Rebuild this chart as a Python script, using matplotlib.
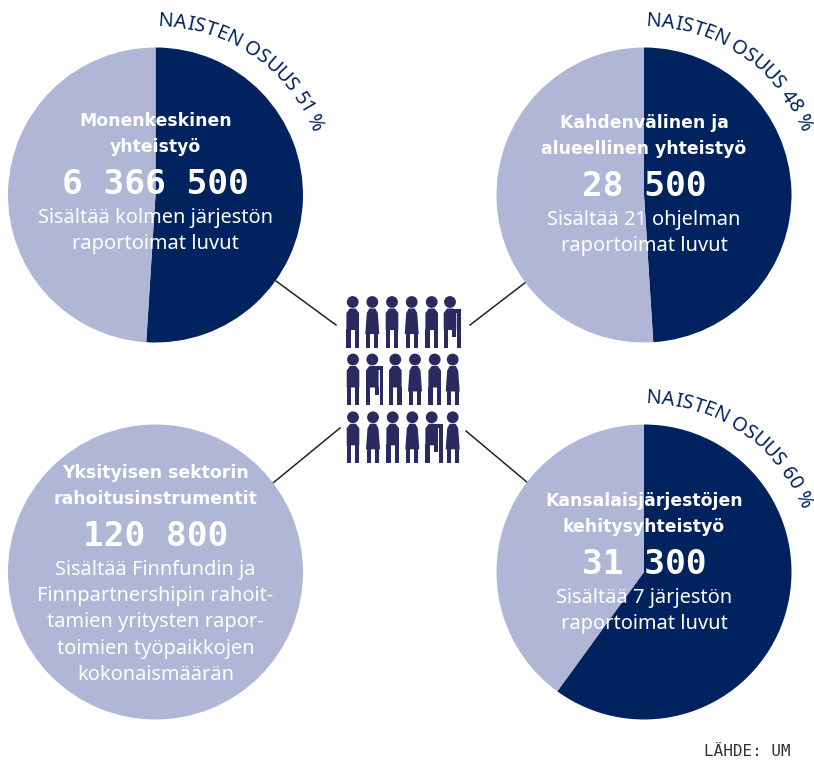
import numpy as np
from matplotlib import pyplot as plt
from matplotlib.patches import Circle, Rectangle, Polygon
from matplotlib.textpath import TextPath
from matplotlib.font_manager import FontProperties

W, H = 814, 760
dark = "#00235f"
light = "#afb6d6"
icon_col = "#2b2a60"

titles = [["Monenkeskinen", "yhteistyö"],
          ["Kahdenvälinen ja", "alueellinen yhteistyö"],
          ["Yksityisen sektorin", "rahoitusinstrumentit"],
          ["Kansalaisjärjestöjen", "kehitysyhteistyö"]]
totals = ["6 366 500", "28 500", "120 800", "31 300"]
notes = [["Sisältää kolmen järjestön", "raportoimat luvut"],
         ["Sisältää 21 ohjelman", "raportoimat luvut"],
         ["Sisältää Finnfundin ja", "Finnpartnershipin rahoit-", "tamien yritysten rapor-",
          "toimien työpaikkojen", "kokonaismäärän"],
         ["Sisältää 7 järjestön", "raportoimat luvut"]]
women_label = [51, 48, None, 60]
women_drawn = [51, 49, None, 60]  # the 48 % pie is drawn a bit over its label

centers = [(155.5, 195), (644, 195), (155.5, 572), (644, 572)]
title_y = [120.5, 122.5, 472.5, 500.5]
radius = 147.5

# person icons, p = trousers, d = dress, w = with walking stick
people = [("pdpdpw", 302, [352.7, 372.3, 392, 411.7, 431.7, 450]),
          ("pwpdpd", 359.5, [353, 372.3, 395.3, 415, 434.7, 452.7]),
          ("pdpdwd", 417.3, [353, 373, 392.7, 412.3, 431.7, 452.7])]

links = [((276, 281), (336, 325)), ((526, 282), (470, 325)),
         ((273, 483), (340, 428)), ((466, 431), (528, 483))]

plt.rcParams['font.family'] = ['Noto Sans', 'DejaVu Sans']
fig = plt.figure(figsize=(W / 100, H / 100), dpi=100)
ax = fig.add_axes([0, 0, 1, 1])


def yy(y):  # picture y runs downwards
    return H - y


def px(size):  # font size from pixels
    return size * 0.72


def curved(text, cx, cy, r, a0, a1, size):
    fp = FontProperties(family='Noto Sans', size=px(size))
    adv = []
    for ch in text:
        if ch == " ":
            adv.append(size * 0.26)
        else:
            adv.append(TextPath((0, 0), ch, size=size, prop=fp).get_extents().x1 + size * 0.06)
    adv = np.array(adv)
    span = np.radians(a1 - a0) * r
    gap = (span - adv.sum()) / (len(text) - 1)
    pos = 0
    for ch, a in zip(text, adv):
        ang = a0 + np.degrees((pos + a / 2) / r)
        x = cx + r * np.sin(np.radians(ang))
        y = cy + r * np.cos(np.radians(ang))
        ax.text(x, y, ch, fontsize=px(size), color=dark, rotation=-ang, rotation_mode='anchor',
                ha='center', va='center')
        pos += a + gap


def block(x0, x1, y0, y1):
    ax.add_patch(Rectangle((x0, yy(y1)), x1 - x0, y1 - y0, color=icon_col, lw=0, zorder=3))


def person(kind, x, y):
    ax.add_patch(Circle((x, yy(y)), 5.9, color=icon_col, lw=0, zorder=3))
    bottom = y + 45.7
    if kind == "d":
        ax.add_patch(Polygon([(x - 5.5, yy(y + 11)), (x - 3, yy(y + 6.5)), (x + 3, yy(y + 6.5)), (x + 5.5, yy(y + 11)),
                              (x + 7, yy(y + 32)), (x - 7, yy(y + 32))], color=icon_col, lw=0, zorder=3))
        block(x - 5.9, x - 1.9, y + 31, bottom)
        block(x + 2, x + 6, y + 31, bottom)
    else:
        ax.add_patch(Polygon([(x - 6.3, yy(y + 11)), (x - 3, yy(y + 6.5)), (x + 3, yy(y + 6.5)), (x + 6.3, yy(y + 11)),
                              (x + 6.3, yy(y + 28)), (x - 6.3, yy(y + 28))], color=icon_col, lw=0, zorder=3))
        block(x - 6.3, x - 2.1, y + 27, bottom)
        if kind == "p":
            block(x + 2.1, x + 6.3, y + 27, bottom)
        else:
            block(x + 2.3, x + 6.3, y + 27, y + 35)
            block(x, x + 11, y + 6.5, y + 10.5)
            block(x + 7.2, x + 11, y + 6.5, bottom)


for a, b in links:
    ax.plot([a[0], b[0]], [yy(a[1]), yy(b[1])], color="#222222", lw=1.1, zorder=1)

for i in range(4):
    cx, cy = centers[i]
    if women_drawn[i] is None:
        vals = [100]
        cols = [light]
    else:
        vals = [women_drawn[i], 100 - women_drawn[i]]
        cols = [dark, light]
    ax.pie(vals, colors=cols, center=(cx, yy(cy)), radius=radius, startangle=90,
           counterclock=False, frame=True, wedgeprops={"linewidth": 0})

    if women_label[i] is not None:
        curved("NAISTEN OSUUS %d %%" % women_label[i], cx, yy(cy), 174, 1, 68.5, 20)

    y = title_y[i]
    for line in titles[i]:
        ax.text(cx, yy(y), line, color="white", fontsize=px(17.3), family='DejaVu Sans', weight='bold',
                ha='center', va='center', zorder=4)
        y += 26.5
    y += 11
    ax.text(cx, yy(y), totals[i], color="white", fontsize=px(34.5), family='DejaVu Sans Mono', weight='bold',
            ha='center', va='center', zorder=4)
    y += 33
    for line in notes[i]:
        ax.text(cx, yy(y), line, color="white", fontsize=px(20), ha='center', va='center', zorder=4)
        y += 26.5

for kinds, y, xs in people:
    for k, x in zip(kinds, xs):
        person(k, x, y)

ax.text(791, yy(751), "LÄHDE: UM", fontsize=px(16), color="#333333", family='DejaVu Sans Mono',
        ha='right', va='center')

ax.set_xlim(0, W)
ax.set_ylim(0, H)
ax.set_aspect('equal')
ax.axis('off')
fig.savefig("out.png", dpi=100)
